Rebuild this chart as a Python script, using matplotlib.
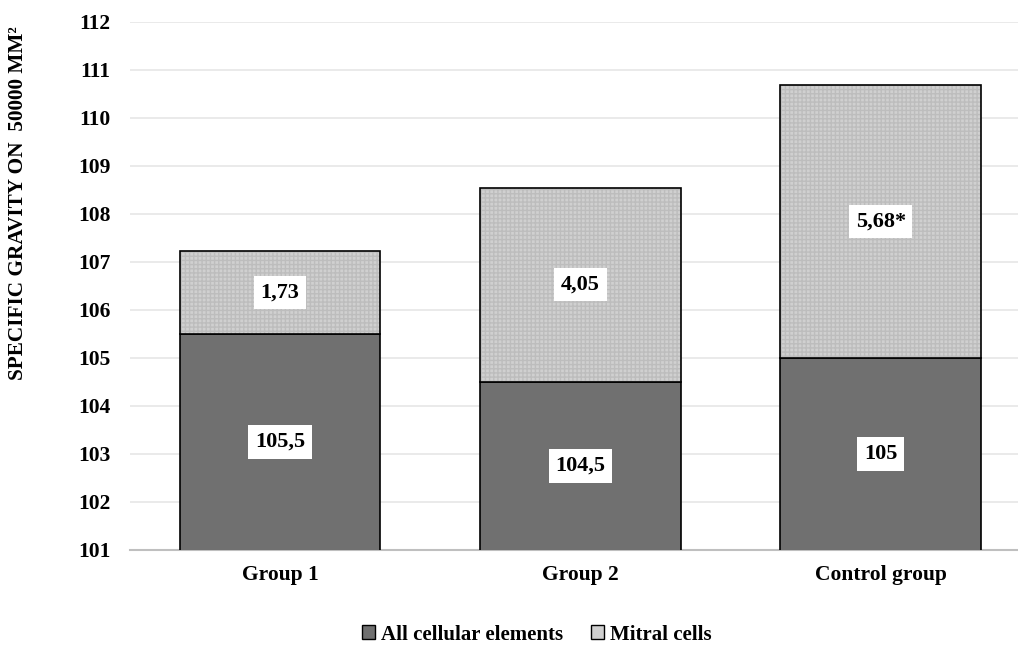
import numpy as np
import matplotlib
matplotlib.use('Agg')
import matplotlib.pyplot as plt
from matplotlib.patches import Patch

# Datos
groups = ['Group 1', 'Group 2', 'Control group']
all_cells = [105.5, 104.5, 105.0]
mitral = [1.73, 4.05, 5.68]
all_labels = ['105,5', '104,5', '105']
mitral_labels = ['1,73', '4,05', '5,68*']
y_ticks = list(range(101, 113))

plt.rcParams['font.family'] = ['Liberation Serif', 'DejaVu Serif']
plt.rcParams['font.weight'] = 'bold'

fig = plt.figure(figsize=(10.18, 6.49), dpi=100)
ax = fig.add_axes([130 / 1018, 99 / 649, 888 / 1018, 528 / 649])

x = np.arange(len(groups))
width = 0.668
dark = '#707070'
light = '#d0d0d0'

# Barras inferiores
ax.bar(x, all_cells, width, color=dark, edgecolor='black', linewidth=1.2, zorder=3)
# Barras superiores con textura
ax.bar(x, mitral, width, bottom=all_cells, color=light, edgecolor='#bdbdbd',
       hatch='++++', linewidth=0, zorder=3)
ax.bar(x, mitral, width, bottom=all_cells, fill=False, edgecolor='black',
       linewidth=1.2, zorder=4)

ymin, ymax = 101, 112
ax.set_ylim(ymin, ymax)
ax.set_xlim(-0.5, 2.457)

# Etiquetas de datos, centradas en la parte visible
box = dict(boxstyle='square,pad=0.3', facecolor='white', edgecolor='none')
for i in range(len(groups)):
    y1 = (ymin + all_cells[i]) / 2
    ax.text(x[i], y1, all_labels[i], ha='center', va='center', fontsize=16,
            fontweight='bold', bbox=box, zorder=5)
    y2 = all_cells[i] + mitral[i] / 2
    ax.text(x[i], y2, mitral_labels[i], ha='center', va='center', fontsize=16,
            fontweight='bold', bbox=box, zorder=5)

ax.set_yticks(y_ticks)
ax.set_xticks(x)
ax.set_xticklabels(groups, fontsize=15.5, fontweight='bold')
ax.tick_params(axis='y', length=0, pad=14, labelsize=15.5)
ax.tick_params(axis='x', length=0, pad=11)
for lab in ax.get_yticklabels():
    lab.set_fontweight('bold')

ax.grid(axis='y', color='#e6e6e6', linewidth=1.2, zorder=0)
for s in ['top', 'right', 'left']:
    ax.spines[s].set_visible(False)
ax.spines['bottom'].set_color('#bfbfbf')
ax.spines['bottom'].set_linewidth(1.5)

fig.text(18 / 1018, 1 - 203 / 649, 'SPECIFIC GRAVITY ON  50000 MM²', rotation=90,
         ha='center', va='center', fontsize=15.3, fontweight='bold')

handles = [Patch(facecolor=dark, edgecolor='black', label='All cellular elements'),
           Patch(facecolor=light, edgecolor='black', label='Mitral cells')]
fig.legend(handles=handles, loc='center', bbox_to_anchor=(0.527, 0.022), ncol=2,
           frameon=False, handlelength=0.65, handleheight=0.65,
           handletextpad=0.25, columnspacing=1.35, prop={'weight': 'bold', 'size': 15})

plt.savefig('out.png', dpi=100)
